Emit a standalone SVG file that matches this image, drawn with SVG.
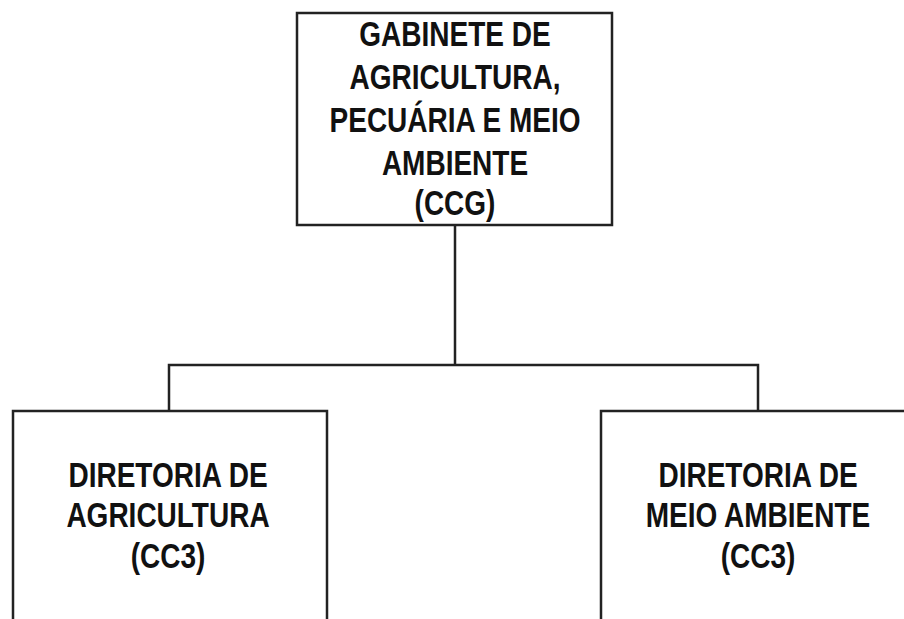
<svg xmlns="http://www.w3.org/2000/svg" width="904" height="619" viewBox="0 0 904 619">
<style>
.box{fill:#fff;stroke:#222;stroke-width:2.5}
.ln{fill:none;stroke:#222;stroke-width:2.5}
.t{font-family:"Liberation Sans",Arial,sans-serif;font-weight:bold;font-size:28px;fill:#111;text-anchor:middle}
</style>
<rect width="904" height="619" fill="#fff"/>
<g id="connectors">
<path class="ln" d="M455 225 V365 M169 411 V365 H758 V411"/>
</g>
<g id="gabinete">
<rect class="box" x="297" y="13" width="315" height="212"/>
<text class="t" transform="translate(455 46) scale(1 1.25)">GABINETE DE</text>
<text class="t" transform="translate(455 89) scale(1 1.25)">AGRICULTURA,</text>
<text class="t" transform="translate(455 132) scale(1 1.25)">PECUÁRIA E MEIO</text>
<text class="t" transform="translate(455 175) scale(1 1.25)">AMBIENTE</text>
<text class="t" transform="translate(455 215) scale(1 1.25)">(CCG)</text>
</g>
<g id="dir-agricultura">
<rect class="box" x="13" y="411" width="314" height="230"/>
<text class="t" transform="translate(168 487) scale(1 1.25)">DIRETORIA DE</text>
<text class="t" transform="translate(168 527) scale(1 1.25)">AGRICULTURA</text>
<text class="t" transform="translate(168 568) scale(1 1.25)">(CC3)</text>
</g>
<g id="dir-meio-ambiente">
<rect class="box" x="601" y="411" width="330" height="230"/>
<text class="t" transform="translate(758 487) scale(1 1.25)">DIRETORIA DE</text>
<text class="t" transform="translate(758 527) scale(1 1.25)">MEIO AMBIENTE</text>
<text class="t" transform="translate(758 568) scale(1 1.25)">(CC3)</text>
</g>
</svg>
